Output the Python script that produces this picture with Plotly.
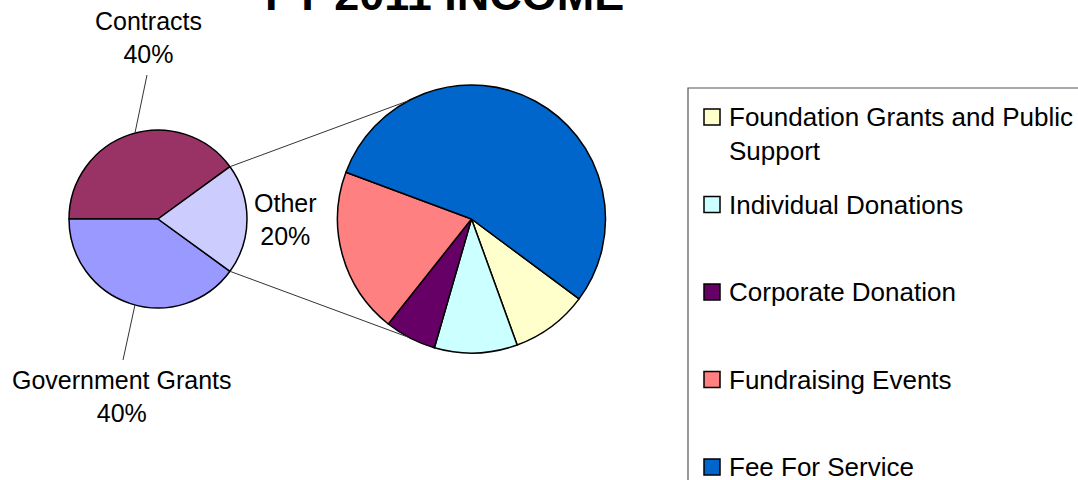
import math
import plotly.graph_objects as go

# ---------------- data ----------------
main_labels = ["Contracts", "Government Grants", "Other"]
main_values = [40, 40, 20]
main_colors = ["#993366", "#9999FF", "#CCCCFF"]

other_labels = ["Foundation Grants and Public Support", "Individual Donations",
                "Corporate Donation", "Fundraising Events", "Fee For Service"]
other_legend_text = ["Foundation Grants and Public<br>Support", "Individual Donations",
                     "Corporate Donation", "Fundraising Events", "Fee For Service"]
other_values = [9.3, 10.0, 6.2, 20.0, 54.5]
other_colors = ["#FFFFCC", "#CCFFFF", "#660066", "#FF8080", "#0066CC"]

title_text = "FY 2011 INCOME"

# ---------------- geometry (pixels) ----------------
W, H = 1078, 480
FONT = "Arial, Liberation Sans, sans-serif"

def X(px):
    return px / W

def Y(py):
    return 1 - py / H

L_CX, L_CY, L_R = 158, 219, 89
R_CX, R_CY, R_R = 471.5, 219, 134

tot_main = sum(main_values)
other_frac = main_values[2] / tot_main
half_other_deg = other_frac * 180.0          # Other slice centred at 3 o'clock
first_deg = main_values[0] / tot_main * 360.0
main_rotation = 90 - (half_other_deg + first_deg)

tot_sub = sum(other_values)
sub_rotation = 126.6

fig = go.Figure()

fig.add_trace(go.Pie(
    labels=main_labels, values=main_values, sort=False,
    direction="counterclockwise", rotation=main_rotation,
    marker=dict(colors=main_colors, line=dict(color="#000000", width=1.5)),
    textinfo="none", textposition="none", showlegend=False,
    domain=dict(x=[X(L_CX - L_R), X(L_CX + L_R)], y=[Y(L_CY + L_R), Y(L_CY - L_R)]),
))

fig.add_trace(go.Pie(
    labels=other_labels, values=other_values, sort=False,
    direction="clockwise", rotation=sub_rotation,
    marker=dict(colors=other_colors, line=dict(color="#000000", width=1.5)),
    textinfo="none", textposition="none", showlegend=False,
    domain=dict(x=[X(R_CX - R_R), X(R_CX + R_R)], y=[Y(R_CY + R_R), Y(R_CY - R_R)]),
))

shapes = []
annotations = []

# connector lines between the pies
def pt(cx, cy, r, deg):
    a = math.radians(deg)
    return cx + r * math.cos(a), cy - r * math.sin(a)

sub_conn_deg = 118
for sgn in (1, -1):
    x0, y0 = pt(L_CX, L_CY, L_R, sgn * half_other_deg)
    x1, y1 = pt(R_CX, R_CY, R_R, sgn * sub_conn_deg)
    shapes.append(dict(type="line", xref="paper", yref="paper",
                       x0=X(x0), y0=Y(y0), x1=X(x1), y1=Y(y1),
                       line=dict(color="#333333", width=1)))

# leader lines for outside labels
lead_deg = 105
for sgn, end in ((1, (147, 75)), (-1, (123, 360))):
    x0, y0 = pt(L_CX, L_CY, L_R, sgn * lead_deg)
    shapes.append(dict(type="line", xref="paper", yref="paper",
                       x0=X(x0), y0=Y(y0), x1=X(end[0]), y1=Y(end[1]),
                       line=dict(color="#333333", width=1)))

# slice labels
label_pos = [(148, 38), (122, 396), (285, 220)]
for lab, val, (lx, ly) in zip(main_labels, main_values, label_pos):
    pct = round(100 * val / tot_main)
    annotations.append(dict(text=f"{lab}<br>{pct}%", x=X(lx), y=Y(ly),
                            xref="paper", yref="paper", showarrow=False,
                            xanchor="center", yanchor="middle", align="center",
                            font=dict(family=FONT, size=25, color="#000000")))

# title
annotations.append(dict(text=f"<b>{title_text}</b>", x=X(444), y=Y(-5),
                        xref="paper", yref="paper", showarrow=False,
                        xanchor="center", yanchor="middle",
                        font=dict(family=FONT, size=45, color="#000000")))

# legend box
shapes.append(dict(type="rect", xref="paper", yref="paper",
                   x0=X(688), y0=Y(88), x1=X(1100), y1=Y(520),
                   line=dict(color="#555555", width=1.2), fillcolor="rgba(0,0,0,0)"))

LEG_Y0, LEG_STEP, SQ = 117, 87.5, 16
for i, (txt, col) in enumerate(zip(other_legend_text, other_colors)):
    cy = LEG_Y0 + i * LEG_STEP
    shapes.append(dict(type="rect", xref="paper", yref="paper",
                       x0=X(704), x1=X(704 + SQ), y0=Y(cy + SQ / 2), y1=Y(cy - SQ / 2),
                       line=dict(color="#000000", width=1.5), fillcolor=col))
    annotations.append(dict(text=txt, x=X(727), y=Y(cy - 17),
                            xref="paper", yref="paper", showarrow=False,
                            xanchor="left", yanchor="top", align="left",
                            font=dict(family=FONT, size=26, color="#000000")))

fig.update_layout(
    width=W, height=H, autosize=False,
    margin=dict(l=0, r=0, t=0, b=0),
    paper_bgcolor="#FFFFFF", plot_bgcolor="#FFFFFF",
    shapes=shapes, annotations=annotations,
)

fig.write_html("out.html", config={"displayModeBar": False},
               post_script="document.body.style.margin='0';document.body.style.overflow='hidden';")
